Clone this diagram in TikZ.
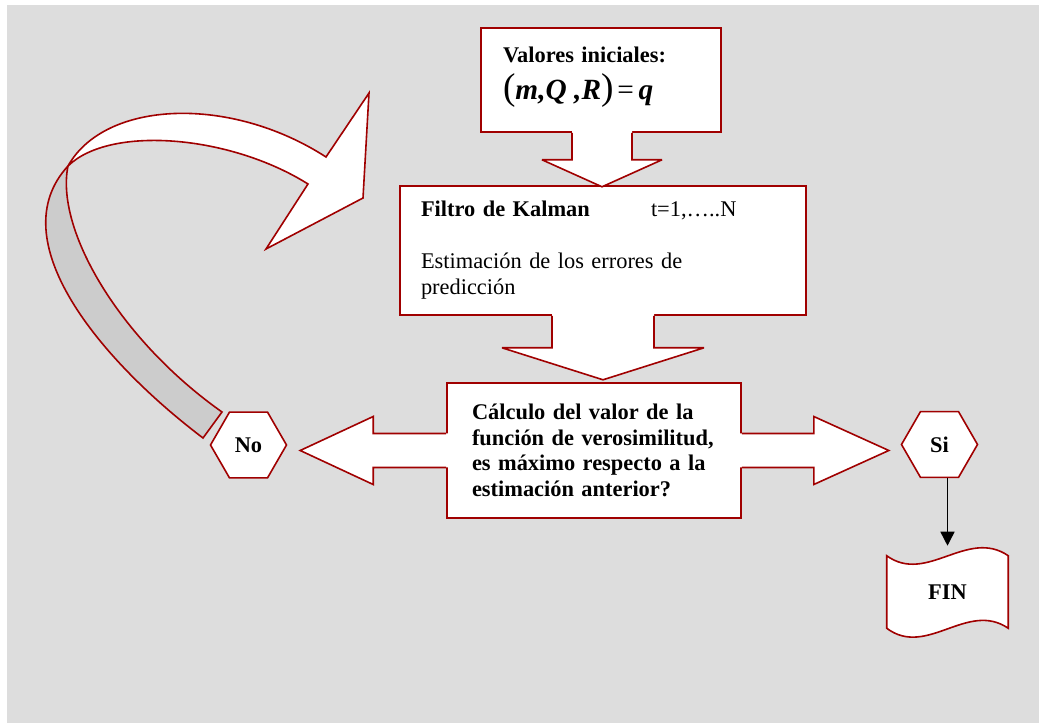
\documentclass[tikz,border=0pt]{standalone}
\usepackage{fontspec}
\setmainfont{Liberation Serif}
\usetikzlibrary{shapes.geometric,arrows.meta,calc,backgrounds}
\definecolor{borde}{RGB}{160,0,0}
\definecolor{fondo}{RGB}{221,221,221}
\definecolor{cinta}{RGB}{204,204,204}

\begin{document}
\begin{tikzpicture}[x=0.75pt,y=-0.75pt,
	every node/.style={font=\fontsize{16.8}{19.5}\selectfont},
	caja/.style={draw=borde,fill=white,line width=1.2pt,align=left},
	hexa/.style={draw=borde,fill=white,line width=1.2pt,regular polygon,
		regular polygon sides=6,minimum size=57pt,inner sep=0pt,
		font=\fontsize{16.8}{19.5}\selectfont\bfseries},
	cierre/.style={minimum width=90.75pt,minimum height=54pt,
		font=\fontsize{16.8}{19.5}\selectfont\bfseries},
	bloque/.style={fill=white},
	borde bloque/.style={draw=borde,line width=1.2pt,miter limit=4}]
\useasboundingbox (0,0) rectangle (1039,723);
\begin{scope}[on background layer]
\fill[white] (0,0) rectangle (1039,723);
\fill[fondo] (7,5) rectangle (1039,723);
\end{scope}

% vuelta desde No hacia el filtro
\coordinate (t1) at (203,438);
\coordinate (t2) at (222,412);
\coordinate (cruce) at (68,166);
\filldraw[fill=cinta,borde bloque] (t1) .. controls (100,360) and (0,240) .. (cruce)
	.. controls (55,230) and (120,340) .. (t2) -- cycle;
\filldraw[fill=white,borde bloque] (cruce) .. controls (105,100) and (230,95) .. (326,157)
	-- (369,93) -- (363,198) -- (266,249) -- (308,184)
	.. controls (230,135) and (110,125) .. (cruce) -- cycle;

\node[caja,minimum width=180pt,minimum height=78pt,text width=147pt,inner xsep=16.5pt,text height=7.5pt] (ini) at (601,80)
	{\textbf{Valores iniciales:}\\[7pt]
	{\fontsize{28}{28}\selectfont(}{\fontsize{22}{22}\selectfont\bfseries\itshape m,Q ,R}{\fontsize{28}{28}\selectfont)}\,{\fontsize{22}{22}\selectfont=\,\bfseries\itshape q}};
\node[caja,minimum width=304.5pt,minimum height=96.75pt,text width=273pt,inner xsep=15.75pt] (kal) at (603,250.5)
	{\makebox[172.5pt][l]{\bfseries Filtro de Kalman}t=1,…..N\\[19.5pt]
	Estimación de los errores de\\
	predicción};
\node[caja,minimum width=220.5pt,minimum height=101.25pt,text width=183pt,inner xsep=18.75pt,
	font=\fontsize{16.8}{19.3}\selectfont\bfseries] (dec) at (594,450.5)
	{Cálculo del valor de la\\
	función de verosimilitud,\\
	es máximo respecto a la\\
	estimación anterior?};
\node[hexa] (no) at (248.5,445) {No};
\node[hexa] (si) at (939.5,444.5) {Si};
\node[cierre] (fin) at (947.5,592) {FIN};
\begin{scope}[on background layer]
\filldraw[fill=white,borde bloque] (fin.north west) .. controls +(40,29) and +(-41,-28) .. (fin.north east)
	-- (fin.south east) .. controls +(-41,-28) and +(40,30) .. (fin.south west) -- cycle;
\end{scope}

% ini -> kal
\fill[bloque] ($(ini.south)+(-29,-3)$) -- ++(0,30) -- ++(-30,0) -- ++(60,27) -- ++(60,-27) -- ++(-30,0) -- ++(0,-30) -- cycle;
\draw[borde bloque] ($(ini.south)+(-29,0)$) -- ++(0,27) -- ++(-30,0) -- ++(60,27) -- ++(60,-27) -- ++(-30,0) -- ++(0,-27);
% kal -> dec
\fill[bloque] ($(kal.south)+(-51,-3)$) -- ++(0,35) -- ++(-50,0) -- ++(101,32) -- ++(101,-32) -- ++(-50,0) -- ++(0,-35) -- cycle;
\draw[borde bloque] ($(kal.south)+(-51,0)$) -- ++(0,32) -- ++(-50,0) -- ++(101,32) -- ++(101,-32) -- ++(-50,0) -- ++(0,-32);
% dec -> no
\fill[bloque] ($(dec.west)+(3,-17)$) -- ++(-76,0) -- ++(0,-17) -- ++(-73,34) -- ++(73,34) -- ++(0,-17) -- ++(76,0) -- cycle;
\draw[borde bloque] ($(dec.west)+(0,-17)$) -- ++(-73,0) -- ++(0,-17) -- ++(-73,34) -- ++(73,34) -- ++(0,-17) -- ++(73,0);
% dec -> si
\fill[bloque] ($(dec.east)+(-3,-17)$) -- ++(75,0) -- ++(0,-17) -- ++(75,34) -- ++(-75,34) -- ++(0,-17) -- ++(-75,0) -- cycle;
\draw[borde bloque] ($(dec.east)+(0,-17)$) -- ++(72,0) -- ++(0,-17) -- ++(75,34) -- ++(-75,34) -- ++(0,-17) -- ++(-72,0);

\draw[-{Triangle[width=10.5pt,length=10.5pt]},line width=1.1pt] (fin.north |- si.south) -- ($(fin.north)+(0,-10)$);
\end{tikzpicture}
\end{document}
